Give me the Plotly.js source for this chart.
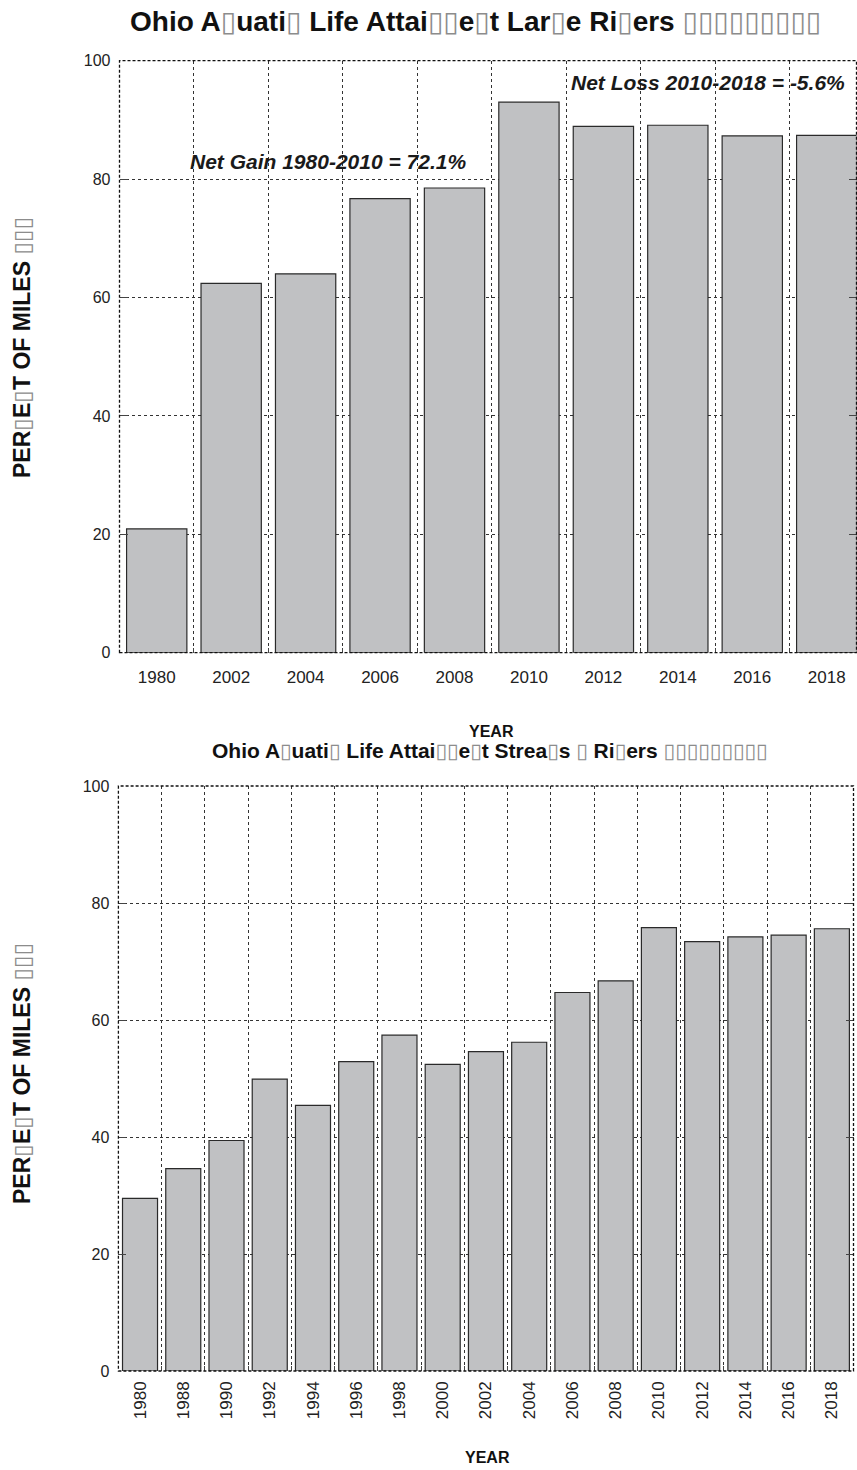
<!DOCTYPE html>
<html><head><meta charset="utf-8">
<script src="https://cdn.plot.ly/plotly-3.0.1.min.js"></script>
<style>
html,body{margin:0;padding:0;overflow:hidden;background:#fff;width:857px;height:1470px}
#chart{width:870px;height:1470px}
</style>
</head><body><div id="chart"></div>
<script>
// ---- data ----
const largeYears = ['1980','2002','2004','2006','2008','2010','2012','2014','2016','2018'];
const largePct   = [20.9, 62.4, 64.0, 76.7, 78.5, 93.0, 88.9, 89.1, 87.3, 87.4];
const streamYears = ['1980','1988','1990','1992','1994','1996','1998','2000','2002','2004','2006','2008','2010','2012','2014','2016','2018'];
const streamPct   = [29.5, 34.6, 39.4, 49.9, 45.4, 52.9, 57.4, 52.4, 54.6, 56.2, 64.7, 66.7, 75.8, 73.4, 74.2, 74.5, 75.6];
const yTicks = [0, 20, 40, 60, 80, 100];
const titleLarge = 'Ohio A□uati□ Life Attai□□e□t Lar□e Ri□ers □□□□□□□□□';
const titleStream = 'Ohio A□uati□ Life Attai□□e□t Strea□s □ Ri□ers □□□□□□□□□';
const yTitle = 'PER□E□T OF MILES □□□';
const xTitle = 'YEAR';
const noteGain = 'Net Gain 1980-2010 = 72.1%';
const noteLoss = 'Net Loss 2010-2018 = -5.6%';

// ---- styling ----
const W = 870, H = 1470;
const FONT = 'Liberation Sans, Arial, Helvetica, sans-serif';
const boxed = s => s.replace(/□/g, '<span style="font-family:DejaVu Sans;color:#8c8c8c;font-weight:normal">▯</span>');
const px = v => v / W;
const py = v => 1 - v / H;

const barStyle = {color: '#c0c1c3', line: {color: '#2a2a2a', width: 1.2}};
const gridDash = '3px,3px';

function xAxis(domain, angle, range) {
  return {
    type: 'category', domain: domain, tickson: 'boundaries', range: range,
    showgrid: true, gridcolor: '#333', gridwidth: 1, griddash: gridDash,
    ticks: 'inside', ticklen: 5, tickcolor: '#444',
    showline: false, zeroline: false, tickangle: angle,
    tickfont: {family: FONT, size: 17, color: '#222'},
    ticklabelstandoff: angle ? 6 : 12, automargin: false, fixedrange: true
  };
}
function yAxis(domain, anchor) {
  return {
    domain: domain, anchor: anchor, range: [0, 100], tickvals: yTicks,
    showgrid: true, gridcolor: '#333', gridwidth: 1, griddash: gridDash,
    ticks: 'inside', ticklen: 8, tickcolor: '#444', mirror: 'ticks',
    showline: false, zeroline: false,
    tickfont: {family: FONT, size: 16, color: '#222'},
    ticklabelstandoff: 8, automargin: false, fixedrange: true
  };
}

const data = [
  {type: 'bar', x: largeYears, y: largePct, xaxis: 'x', yaxis: 'y', marker: barStyle, hoverinfo: 'x+y'},
  {type: 'bar', x: streamYears, y: streamPct, xaxis: 'x2', yaxis: 'y2', marker: barStyle, hoverinfo: 'x+y'}
];

function frame(xr, yr) {
  return {type: 'rect', xref: xr + ' domain', yref: yr + ' domain', x0: 0, x1: 1, y0: 0, y1: 1,
          line: {color: '#111', width: 1.3, dash: '3px,2px'}, layer: 'above'};
}

const ann = (text, x, y, size, extra) => Object.assign({
  text: text, xref: 'paper', yref: 'paper', x: px(x), y: py(y), xanchor: 'center', yanchor: 'middle',
  showarrow: false, borderpad: 0, font: {family: FONT, size: size, color: '#111'}
}, extra || {});

const layout = {
  width: W, height: H,
  margin: {l: 0, r: 0, t: 0, b: 0},
  paper_bgcolor: '#fff', plot_bgcolor: '#fff',
  showlegend: false, bargap: 0.19,
  xaxis: Object.assign(xAxis([px(119.5), px(856.5)], 0, [-0.5, 9.4]), {anchor: 'y'}),
  yaxis: yAxis([py(652.7), py(60.7)], 'x'),
  xaxis2: Object.assign(xAxis([px(118.4), px(853.5)], -90, [-0.5, 16.5]), {anchor: 'y2'}),
  yaxis2: yAxis([py(1371), py(786)], 'x2'),
  shapes: [frame('x', 'y'), frame('x2', 'y2')],
  annotations: [
    ann('<b>' + boxed(titleLarge) + '</b>', 475, 22, 28),
    ann('<b>' + boxed(titleStream) + '</b>', 490, 751, 21),
    ann('<b>' + xTitle + '</b>', 491, 731, 16),
    ann('<b>' + xTitle + '</b>', 487, 1457, 16),
    ann('<b>' + boxed(yTitle) + '</b>', 22, 348, 23, {textangle: -90}),
    ann('<b>' + boxed(yTitle) + '</b>', 22, 1074, 23, {textangle: -90}),
    ann('<b><i>' + noteGain + '</i></b>', 328, 161, 21, {font: {family: FONT, size: 21, color: '#1a1a1a'}}),
    ann('<b><i>' + noteLoss + '</i></b>', 708, 83, 21, {font: {family: FONT, size: 21, color: '#1a1a1a'}})
  ]
};

Plotly.newPlot('chart', data, layout, {displayModeBar: false, staticPlot: true});
</script>
</body></html>
